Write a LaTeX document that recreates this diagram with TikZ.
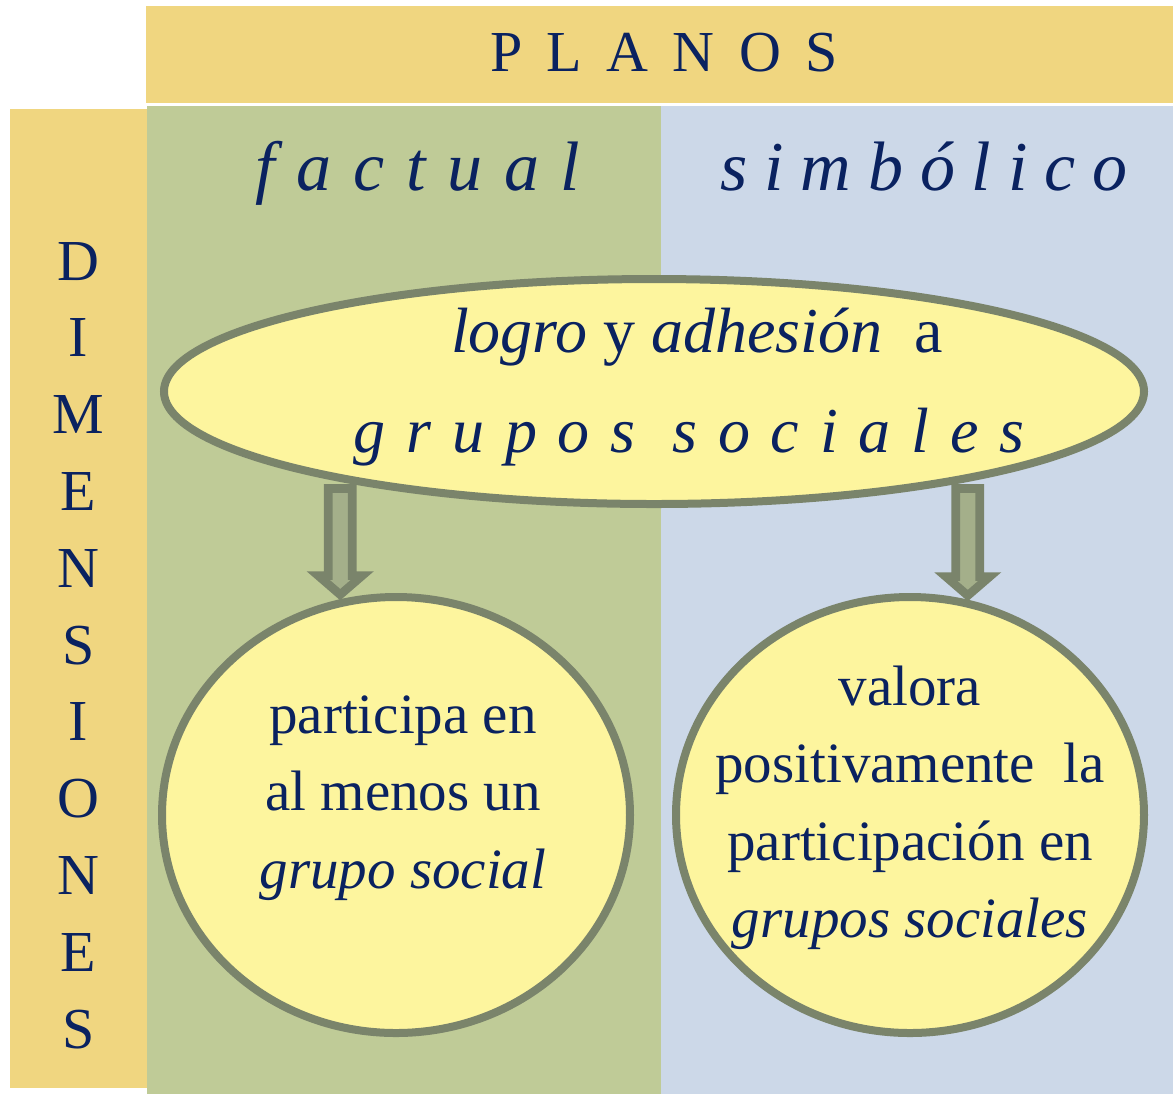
\documentclass[tikz,border=0pt]{standalone}
\usepackage{fontspec}
\setmainfont{Liberation Serif}
\usepackage{tikz}
\usetikzlibrary{calc}
\usetikzlibrary{shapes.geometric}

\definecolor{banda}{HTML}{F0D680}
\definecolor{verde}{HTML}{BFCB97}
\definecolor{azul}{HTML}{CCD8E8}
\definecolor{crema}{HTML}{FDF59E}
\definecolor{borde}{HTML}{7A846B}
\definecolor{relleno}{HTML}{A4AF8A}
\definecolor{tinta}{HTML}{0A2260}

\tikzset{
  burbuja/.style={ellipse, draw=borde, fill=crema, line width=4pt, inner sep=0pt},
  flechabox/.style={draw=borde, fill=relleno, line width=4.3pt, line join=miter},
  letra/.style={text=tinta, anchor=base, inner sep=0pt, font=\fontsize{29}{30}\selectfont},
  plano/.style={text=tinta, anchor=base, inner sep=0pt, font=\itshape\fontsize{35}{36}\selectfont},
  lema/.style={text=tinta, anchor=base, inner sep=0pt, font=\fontsize{32}{34}\selectfont},
  linea/.style={text=tinta, anchor=base, inner sep=0pt, font=\fontsize{28.5}{30}\selectfont}
}

\newcommand\flecha[2]{%
  \draw[flechabox] let \p1=(#1), \p2=(#2) in
    (\x1-6pt,\y1-3.5pt) -- (\x1+6pt,\y1-3.5pt) -- (\x1+6pt,\y2+12pt)
    -- (\x1+11pt,\y2+12pt) -- (\x1,\y2+2.5pt) -- (\x1-11pt,\y2+12pt)
    -- (\x1-6pt,\y2+12pt) -- cycle;}

\begin{document}
\begin{tikzpicture}[x=0.5pt,y=-0.5pt]
\useasboundingbox (0,0) rectangle (1173,1094);

\fill [banda] (146,6) rectangle (1173,103);
\fill [banda] (10,109) rectangle (147,1088);
\fill [verde] (147,106) rectangle (661,1094);
\fill [azul] (661,106) rectangle (1173,1094);

\node[letra] (planos) at (664,71) {\addfontfeature{LetterSpace=42}PLANOS};
\foreach \l [count=\i] in {D,I,M,E,N,S,I,O,N,E,S}
  \node[letra] (dim-\i) at (78.5,{280+76.8*(\i-1)}) {\l};

\node[plano] (factual) at (418,190) {\addfontfeature{LetterSpace=31}factual};
\node[plano] (simbolico) at (924,190) {\addfontfeature{LetterSpace=24}simbólico};

\node[burbuja, minimum width=490pt, minimum height=112.5pt] (logro) at (654,391.5) {};
\node[lema] (linea1) at (697,352) {\textit{logro} y \textit{adhesión}\ \ a};
\node[lema] (linea2) at (689,452) {\itshape\addfontfeature{LetterSpace=32.5}grupos sociales};

\node[burbuja, minimum width=234pt, minimum height=218pt] (participa) at (396,815) {};
\node[burbuja, minimum width=234pt, minimum height=218pt] (valora) at (910,815) {};

\foreach \t [count=\i] in {{participa en},{al menos un},{\textit{grupo social}}}
  \node[linea] (izq-\i) at (403,{733+77.5*(\i-1)}) {\t};
\foreach \t [count=\i] in {{valora},{positivamente\ \ la},{participación en},{\textit{grupos sociales}}}
  \node[linea] (der-\i) at (910,{705+77.5*(\i-1)}) {\t};

\flecha{logro.196.05}{participa.105.6}
\flecha{logro.344.95}{valora.74.6}
\end{tikzpicture}
\end{document}
